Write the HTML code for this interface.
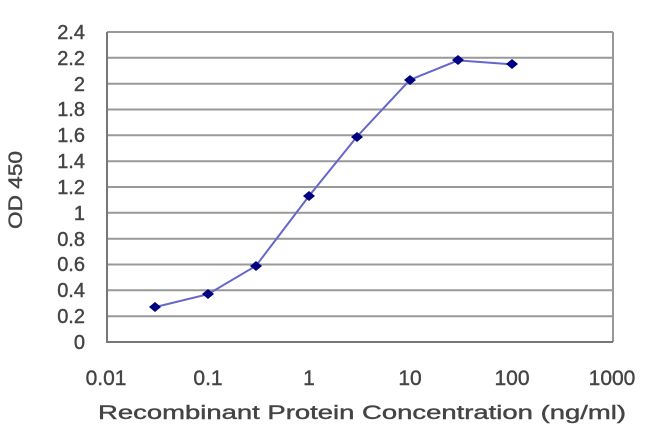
<!DOCTYPE html>
<html><head><style>body{margin:0;background:#fff}</style></head><body>
<svg width="650" height="433" xmlns="http://www.w3.org/2000/svg" font-family="Liberation Sans, sans-serif" fill="#444">
<g stroke="#999" stroke-width="2">
<line x1="107" x2="613" y1="32" y2="32"/><line x1="107" x2="613" y1="57.8" y2="57.8"/><line x1="107" x2="613" y1="83.7" y2="83.7"/><line x1="107" x2="613" y1="109.5" y2="109.5"/><line x1="107" x2="613" y1="135.3" y2="135.3"/><line x1="107" x2="613" y1="161.2" y2="161.2"/><line x1="107" x2="613" y1="187" y2="187"/><line x1="107" x2="613" y1="212.8" y2="212.8"/><line x1="107" x2="613" y1="238.7" y2="238.7"/><line x1="107" x2="613" y1="264.5" y2="264.5"/><line x1="107" x2="613" y1="290.3" y2="290.3"/><line x1="107" x2="613" y1="316.2" y2="316.2"/>
<line x1="613" x2="613" y1="32" y2="342"/>
</g>
<g stroke="#777" stroke-width="2"><line x1="107" x2="107" y1="32" y2="343"/><line x1="106" x2="613" y1="342" y2="342"/></g>
<g font-size="20" text-anchor="end" stroke="#444" stroke-width="0.4">
<text x="85" y="39">2.4</text><text x="85" y="65">2.2</text><text x="85" y="91">2</text><text x="85" y="116">1.8</text><text x="85" y="142">1.6</text><text x="85" y="168">1.4</text><text x="85" y="194">1.2</text><text x="85" y="220">1</text><text x="85" y="246">0.8</text><text x="85" y="271">0.6</text><text x="85" y="297">0.4</text><text x="85" y="323">0.2</text><text x="85" y="349">0</text>
</g>
<g font-size="21" text-anchor="middle" stroke="#444" stroke-width="0.4">
<text x="106" y="385">0.01</text><text x="208" y="385">0.1</text><text x="309" y="385">1</text><text x="410" y="385">10</text><text x="512" y="385">100</text><text x="612" y="385">1000</text>
<text x="362" y="419" font-size="19" textLength="528" lengthAdjust="spacingAndGlyphs">Recombinant Protein Concentration (ng/ml)</text>
<text transform="translate(22,190) rotate(-90)" font-size="19" textLength="78" lengthAdjust="spacingAndGlyphs">OD 450</text>
</g>
<polyline fill="none" stroke="#6666cc" stroke-width="2" points="155,307.1 208,294.2 256,265.8 309,196 357,136.6 410,79.8 458,60.4 512,64.3"/>
<g fill="#000080">
<path d="M155,302l6,5-6,5-6-5z"/><path d="M208,289l6,5-6,5-6-5z"/><path d="M256,261l6,5-6,5-6-5z"/><path d="M309,191l6,5-6,5-6-5z"/><path d="M357,132l6,5-6,5-6-5z"/><path d="M410,75l6,5-6,5-6-5z"/><path d="M458,55l6,5-6,5-6-5z"/><path d="M512,59l6,5-6,5-6-5z"/>
</g>
</svg>
</body></html>
